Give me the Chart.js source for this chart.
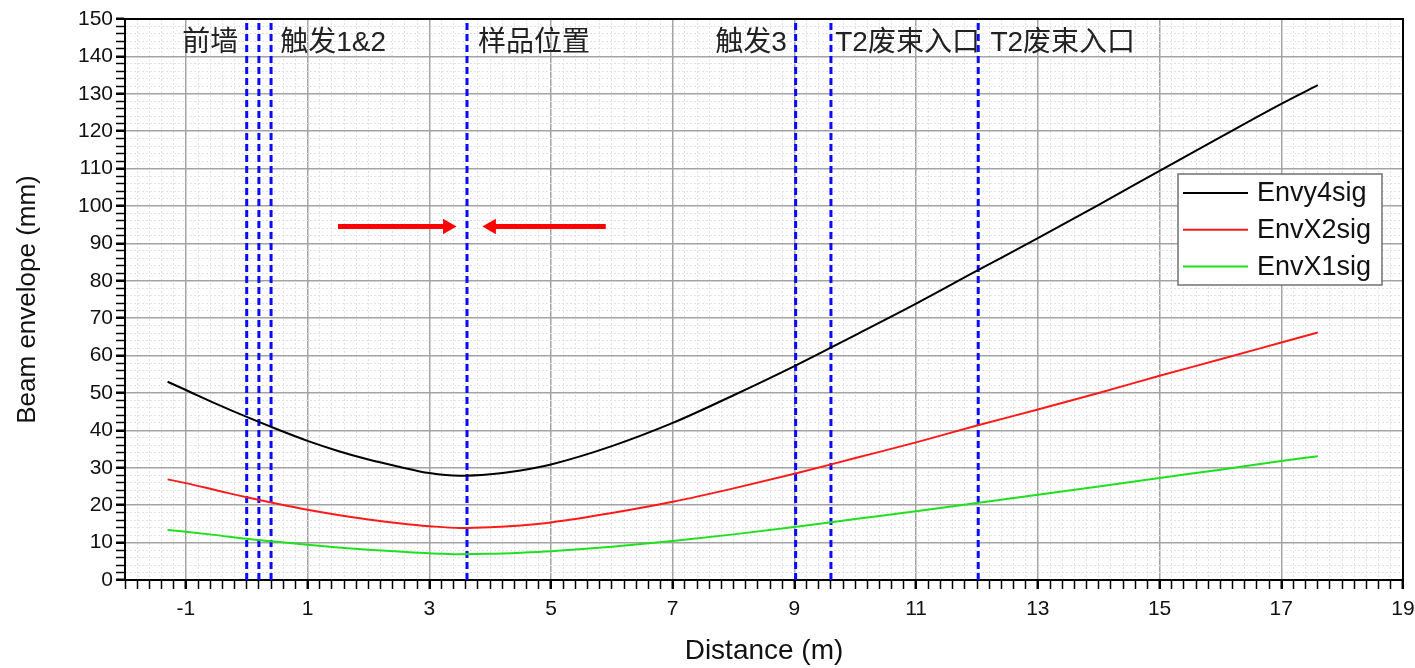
<!DOCTYPE html>
<html>
<head>
<meta charset="utf-8">
<title>Beam envelope</title>
<script src="https://cdn.jsdelivr.net/npm/chart.js@4.4.1/dist/chart.umd.min.js"></script>
<style>
  html, body { margin: 0; padding: 0; background: #fff; }
  #wrap { width: 1415px; height: 668px; }
</style>
</head>
<body>
<div id="wrap"><canvas id="envChart"></canvas></div>
<script>
// Values ------------------------------------------------------------------------
const distance = [-1.3, -1, -0.5, 0, 0.5, 1, 1.5, 2, 2.5, 3, 3.5, 4, 4.5, 5, 6, 7, 8, 9, 10, 11, 12, 13, 14, 15, 16, 17, 17.6];
const envy4sig = [53, 50.8, 47.1, 43.6, 40.3, 37.2, 34.5, 32.2, 30.3, 28.6, 27.9, 28.3, 29.3, 30.9, 35.8, 42, 49.4, 57.2, 65.5, 73.9, 82.7, 91.4, 100.3, 109.4, 118.4, 127.3, 132.3];
const envx2sig = [26.9, 25.9, 24, 22.1, 20.4, 18.8, 17.4, 16.2, 15.2, 14.4, 13.9, 14.1, 14.6, 15.4, 17.9, 20.9, 24.5, 28.4, 32.6, 36.8, 41.3, 45.6, 50, 54.6, 59, 63.5, 66.2];
const envx1sig = [13.4, 12.9, 12, 11, 10.2, 9.4, 8.7, 8.1, 7.6, 7.15, 6.9, 7, 7.3, 7.7, 8.9, 10.4, 12.2, 14.2, 16.3, 18.4, 20.6, 22.8, 25, 27.3, 29.5, 31.8, 33.1];

const xTickLabels = [-1, 1, 3, 5, 7, 9, 11, 13, 15, 17, 19];
const yTickLabels = [0, 10, 20, 30, 40, 50, 60, 70, 80, 90, 100, 110, 120, 130, 140, 150];

// dashed marker lines (m) and the names written along the top
const markerX = [0, 0.2, 0.4, 3.62, 9.02, 9.6, 12.02];
const markerNames = ['前墙', '触发1&2', '样品位置', '触发3', 'T2废束入口', 'T2废束入口'];
const markerNameX = [-1.06, 0.55, 3.8, 7.7, 9.67, 12.22];
const markerNameY = 143.5;

// the two arrows pointing at the sample position
const arrowY = 94.5;
const arrowFrom = [1.5, 5.9];
const arrowTo = [3.3, 4.02];
// ----------------------------------------------------------------------------------

const FONT = '"Liberation Sans", Arial, "Noto Sans CJK SC", sans-serif';
Chart.defaults.font.family = FONT;

const curve = vals => distance.map((d, i) => ({x: d, y: vals[i]}));
const isMajorX = v => xTickLabels.includes(Math.round(v * 10) / 10);
const isMajorY = v => yTickLabels.includes(v);

const datasets = [
    {label: 'Envy4sig', data: curve(envy4sig), borderColor: '#000000', borderWidth: 2},
    {label: 'EnvX2sig', data: curve(envx2sig), borderColor: '#ff1a1a', borderWidth: 2},
    {label: 'EnvX1sig', data: curve(envx1sig), borderColor: '#1fe01f', borderWidth: 2}
].map(ds => Object.assign(ds, {pointRadius: 0, cubicInterpolationMode: 'monotone'}));

markerX.forEach(mx => datasets.push({
    label: '',
    data: [{x: mx, y: 0}, {x: mx, y: 150}],
    borderColor: '#0a0aff',
    borderWidth: 3,
    borderDash: [7, 4],
    pointRadius: 0
}));

arrowFrom.forEach((ax, i) => datasets.push({
    label: '',
    data: [{x: ax, y: arrowY}, {x: arrowTo[i], y: arrowY}],
    borderColor: '#ff0000',
    borderWidth: 5,
    borderCapStyle: 'butt',
    pointStyle: 'triangle',
    pointRadius: [0, 9],
    pointRotation: ax < arrowTo[i] ? 90 : -90,
    pointBackgroundColor: '#ff0000',
    pointBorderWidth: 0
}));

// Legend box inside the plot
const legendBox = {
    id: 'legendBox',
    afterDraw(chart) {
        const {ctx, chartArea} = chart;
        const x0 = chartArea.right - 225, y0 = chartArea.top + 155;
        const w = 204, h = 111;
        ctx.save();
        ctx.fillStyle = '#ffffff';
        ctx.fillRect(x0, y0, w, h);
        ctx.strokeStyle = '#707070';
        ctx.lineWidth = 1.5;
        ctx.strokeRect(x0, y0, w, h);
        ctx.font = '27px ' + FONT;
        ctx.textBaseline = 'middle';
        chart.data.datasets.slice(0, 3).forEach((ds, i) => {
            const cy = y0 + 19 + i * 36.7;
            ctx.strokeStyle = ds.borderColor;
            ctx.lineWidth = 2;
            ctx.beginPath();
            ctx.moveTo(x0 + 5, cy);
            ctx.lineTo(x0 + 70, cy);
            ctx.stroke();
            ctx.fillStyle = '#111';
            ctx.fillText(ds.label, x0 + 79, cy + 1);
        });
        ctx.restore();
    }
};

// Names of the marker positions along the top
const markerLabels = {
    id: 'markerLabels',
    afterDatasetsDraw(chart) {
        const {ctx, scales: {x, y}} = chart;
        ctx.save();
        ctx.font = '28px ' + FONT;
        ctx.fillStyle = '#222';
        ctx.textAlign = 'left';
        ctx.textBaseline = 'middle';
        markerNames.forEach((t, i) => {
            ctx.fillText(t, x.getPixelForValue(markerNameX[i]), y.getPixelForValue(markerNameY));
        });
        ctx.restore();
    }
};

new Chart(document.getElementById('envChart').getContext('2d'), {
    type: 'line',
    data: {datasets: datasets},
    plugins: [markerLabels, legendBox],
    options: {
        responsive: true,
        maintainAspectRatio: false,
        animation: false,
        events: [],
        layout: {padding: 0},
        plugins: {
            legend: {display: false},
            tooltip: {enabled: false}
        },
        scales: {
            x: {
                type: 'linear',
                position: 'bottom',
                min: -2,
                max: 19,
                afterBuildTicks: axis => {
                    const t = [];
                    for (let i = -10; i <= 95; i++) t.push({value: i / 5});
                    axis.ticks = t;
                },
                afterFit: axis => {
                    axis.height = 88;
                    axis.paddingRight = 0;
                },
                ticks: {
                    autoSkip: false,
                    maxRotation: 0,
                    padding: 8,
                    color: '#111',
                    font: {size: 21},
                    callback: v => isMajorX(v) ? String(Math.round(v)) : ''
                },
                grid: {
                    color: c => c.tick && isMajorX(c.tick.value) ? '#a3a3a3' : '#e2e2e2',
                    lineWidth: c => c.tick && isMajorX(c.tick.value) ? 1.5 : 1,
                    tickLength: 9,
                    tickColor: '#000',
                    tickWidth: c => c.tick && isMajorX(c.tick.value) ? 2.5 : 1.5
                },
                border: {
                    color: '#000',
                    width: 2,
                    dash: c => c.tick && !isMajorX(c.tick.value) ? [2, 2] : []
                },
                title: {
                    display: true,
                    text: 'Distance (m)',
                    color: '#111',
                    font: {size: 28},
                    padding: {top: 0, bottom: 0}
                }
            },
            xTop: {
                type: 'linear',
                position: 'top',
                min: -2,
                max: 19,
                display: true,
                afterFit: axis => { axis.height = 19; },
                ticks: {display: false},
                grid: {drawOnChartArea: false, drawTicks: false},
                border: {color: '#000', width: 2}
            },
            y: {
                type: 'linear',
                position: 'left',
                min: 0,
                max: 150,
                afterBuildTicks: axis => {
                    const t = [];
                    for (let v = 0; v <= 150; v += 2) t.push({value: v});
                    axis.ticks = t;
                },
                afterFit: axis => { axis.width = 125; },
                ticks: {
                    autoSkip: false,
                    padding: 3,
                    color: '#111',
                    font: {size: 21},
                    callback: v => isMajorY(v) ? String(v) : ''
                },
                grid: {
                    color: c => c.tick && isMajorY(c.tick.value) ? '#a3a3a3' : '#e2e2e2',
                    lineWidth: c => c.tick && isMajorY(c.tick.value) ? 1.5 : 1,
                    tickLength: 9,
                    tickColor: '#000',
                    tickWidth: c => c.tick && isMajorY(c.tick.value) ? 2.5 : 1.5
                },
                border: {
                    color: '#000',
                    width: 2,
                    dash: c => c.tick && !isMajorY(c.tick.value) ? [2, 2] : []
                },
                title: {
                    display: true,
                    text: 'Beam envelope (mm)',
                    color: '#111',
                    font: {size: 26},
                    padding: {top: 12, bottom: 0}
                }
            },
            yRight: {
                type: 'linear',
                position: 'right',
                min: 0,
                max: 150,
                display: true,
                afterFit: axis => { axis.width = 12; },
                ticks: {display: false},
                grid: {drawOnChartArea: false, drawTicks: false},
                border: {color: '#000', width: 2}
            }
        }
    }
});
</script>
</body>
</html>
